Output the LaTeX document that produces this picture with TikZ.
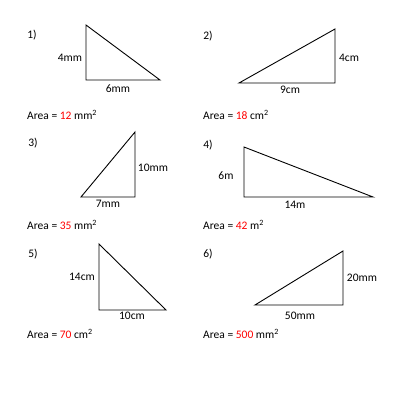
\documentclass[tikz,border=0pt]{standalone}
\usepackage{fontspec}
\setmainfont{Carlito}
\begin{document}
\begin{tikzpicture}[x=1pt,y=-1pt,
  num/.style={font=\fontsize{11.5}{13}\selectfont},
  lbl/.style={font=\fontsize{11.5}{13}\selectfont,inner sep=1pt},
  area/.style={font=\fontsize{11.5}{13}\selectfont,anchor=west,inner sep=0pt},
  tri/.style={line width=0.9pt,line join=miter}]
\useasboundingbox (0,0) rectangle (400,400);

%Shape: Triangle 1
\coordinate (t1a) at (86,25);
\coordinate (t1b) at (86,80);
\coordinate (t1c) at (160,80);
\draw [tri] (t1a) -- (t1b) -- (t1c) -- cycle;
\node [num] (n1) at (32,35) {1)};
\node [lbl] (h1) at (70,58) {4mm};
\node [lbl] (b1) at (118,89) {6mm};
\node [area] (a1) at (27,115) {Area = \textcolor{red}{12} mm\textsuperscript{2}};

%Shape: Triangle 2
\coordinate (t2a) at (335,29);
\coordinate (t2b) at (335,83);
\coordinate (t2c) at (239,83);
\draw [tri] (t2a) -- (t2b) -- (t2c) -- cycle;
\node [num] (n2) at (208,36) {2)};
\node [lbl] (h2) at (349,58) {4cm};
\node [lbl] (b2) at (290,90) {9cm};
\node [area] (a2) at (203,115) {Area = \textcolor{red}{18} cm\textsuperscript{2}};

%Shape: Triangle 3
\coordinate (t3a) at (135,132);
\coordinate (t3b) at (135,197);
\coordinate (t3c) at (81,197);
\draw [tri] (t3a) -- (t3b) -- (t3c) -- cycle;
\node [num] (n3) at (33,143) {3)};
\node [lbl] (h3) at (153,168) {10mm};
\node [lbl] (b3) at (108,204) {7mm};
\node [area] (a3) at (27,225) {Area = \textcolor{red}{35} mm\textsuperscript{2}};

%Shape: Triangle 4
\coordinate (t4a) at (244,147);
\coordinate (t4b) at (244,197);
\coordinate (t4c) at (373,197);
\draw [tri] (t4a) -- (t4b) -- (t4c) -- cycle;
\node [num] (n4) at (208,145) {4)};
\node [lbl] (h4) at (226,176) {6m};
\node [lbl] (b4) at (295,205) {14m};
\node [area] (a4) at (203,225) {Area = \textcolor{red}{42} m\textsuperscript{2}};

%Shape: Triangle 5
\coordinate (t5a) at (99,244);
\coordinate (t5b) at (99,310);
\coordinate (t5c) at (166,310);
\draw [tri] (t5a) -- (t5b) -- (t5c) -- cycle;
\node [num] (n5) at (33,254) {5)};
\node [lbl] (h5) at (82,277) {14cm};
\node [lbl] (b5) at (132,316) {10cm};
\node [area] (a5) at (27,334) {Area = \textcolor{red}{70} cm\textsuperscript{2}};

%Shape: Triangle 6
\coordinate (t6a) at (343,251);
\coordinate (t6b) at (343,305);
\coordinate (t6c) at (255,305);
\draw [tri] (t6a) -- (t6b) -- (t6c) -- cycle;
\node [num] (n6) at (208,254) {6)};
\node [lbl] (h6) at (362,278) {20mm};
\node [lbl] (b6) at (300,316) {50mm};
\node [area] (a6) at (203,334) {Area = \textcolor{red}{500} mm\textsuperscript{2}};

\end{tikzpicture}
\end{document}
